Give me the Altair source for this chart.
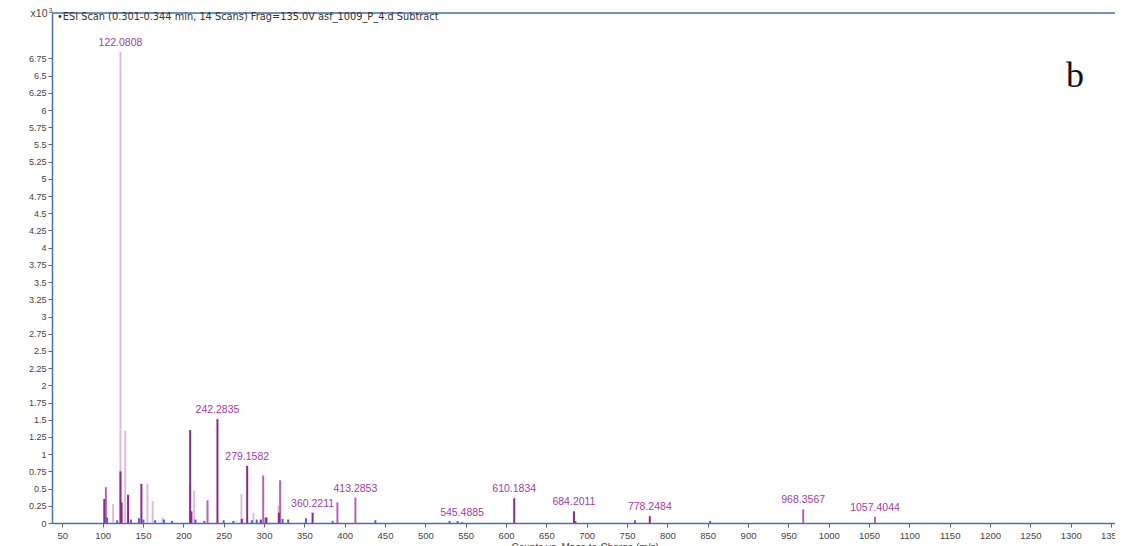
import altair as alt
import pandas as pd

# ---- data (m/z, intensity in x10^3 counts) ----
light_mz = [113.0, 122.08, 128.0, 155.5, 162.0, 174.0, 208.0, 213.5, 272.0, 287.0, 318.0]
light_h = [0.28, 6.85, 1.34, 0.57, 0.32, 0.08, 0.57, 0.47, 0.42, 0.15, 0.26]

mid_mz = [104.0, 230.0, 299.0, 320.0, 391.0, 413.29, 968.36, 1057.40, 545.49]
mid_h = [0.52, 0.33, 0.69, 0.62, 0.30, 0.37, 0.20, 0.09, 0.015]

blue_mz = [105.5, 118.0, 135.0, 145.0, 150.5, 165.0, 176.0, 186.0, 215.0, 226.0, 250.0,
           262.0, 285.0, 291.0, 302.0, 323.0, 330.0, 352.0, 385.0, 438.0, 530.0, 540.0,
           686.0, 760.0, 853.0]
blue_h = [0.08, 0.04, 0.05, 0.07, 0.05, 0.04, 0.05, 0.03, 0.05, 0.03, 0.04,
          0.03, 0.04, 0.05, 0.08, 0.06, 0.05, 0.07, 0.03, 0.04, 0.03, 0.03,
          0.03, 0.04, 0.03]

dark_mz = [102.0, 122.08, 123.5, 131.5, 148.0, 208.5, 210.0, 242.28, 272.5, 279.15,
           296.0, 303.0, 318.5, 360.22, 610.18, 684.20, 778.25]
dark_h = [0.35, 0.75, 0.30, 0.41, 0.57, 1.35, 0.17, 1.51, 0.06, 0.83,
          0.05, 0.08, 0.15, 0.15, 0.36, 0.17, 0.10]

label_mz = [122.08, 242.28, 279.15, 360.22, 413.29, 545.49, 610.18, 684.20, 778.25, 968.36, 1057.40]
label_h = [6.85, 1.51, 0.83, 0.15, 0.37, 0.015, 0.36, 0.17, 0.10, 0.20, 0.09]
label_text = ["122.0808", "242.2835", "279.1582", "360.2211", "413.2853", "545.4885",
              "610.1834", "684.2011", "778.2484", "968.3567", "1057.4044"]

x_ticks = list(range(50, 1351, 50))
y_ticks = [i * 0.25 for i in range(0, 28)]

rows = []
for kind, mzs, hs in [("light", light_mz, light_h), ("mid", mid_mz, mid_h),
                      ("blue", blue_mz, blue_h), ("dark", dark_mz, dark_h)]:
    for m, h in zip(mzs, hs):
        rows.append({"mz": m, "h": h, "kind": kind, "zero": 0.0})
peaks = pd.DataFrame(rows)
labels = pd.DataFrame({"mz": label_mz, "h": label_h, "t": label_text})

W, H = 1063, 510
xs = alt.Scale(domain=[37.2, 1354.9], nice=False, zero=False)
ys = alt.Scale(domain=[0, 7.41], nice=False)

FONT = "Liberation Sans"
BLUE = "#4a6fae"

x_axis = alt.Axis(
    values=x_ticks, format="d", title="Counts vs. Mass-to-Charge (m/z)",
    domainColor=BLUE, domainWidth=1.5, tickColor="#666", tickSize=4,
    labelColor="#444", labelFont=FONT, labelFontSize=9.5, labelPadding=3,
    grid=False, titleFont=FONT, titleFontSize=10, titleFontWeight="normal",
    titleColor="#444", titleBaseline="top", titleY=19, titleX=459, titleAnchor="start",
    labelFlush=False, labelOverlap=False)
y_axis = alt.Axis(
    values=y_ticks, labelExpr="format(datum.value, '~g')", title=None,
    domainColor=BLUE, domainWidth=1.5, tickColor="#666", tickSize=4,
    labelColor="#444", labelFont=FONT, labelFontSize=9, labelPadding=2,
    grid=False, labelFlush=False, labelOverlap=False)

sticks = alt.Chart(peaks).mark_rule(strokeWidth=2, clip=True).encode(
    x=alt.X("mz:Q", scale=xs, axis=x_axis),
    y=alt.Y("zero:Q", scale=ys, axis=y_axis),
    y2="h:Q",
    color=alt.Color("kind:N", legend=None, scale=alt.Scale(
        domain=["light", "mid", "blue", "dark"],
        range=["#dcbcdc", "#b463b4", "#5563c4", "#8a2a8a"])),
)

peak_labels = alt.Chart(labels).mark_text(
    baseline="bottom", align="center", dy=-4, font=FONT, fontSize=10.5, color="#a040a0"
).encode(x=alt.X("mz:Q", scale=xs, axis=x_axis), y=alt.Y("h:Q", scale=ys, axis=y_axis), text="t:N")

top_line = alt.Chart(pd.DataFrame({"a": [0]})).mark_rule(color=BLUE, strokeWidth=1.5).encode(
    x=alt.value(0), x2=alt.value(W), y=alt.value(0))

ann = pd.DataFrame({
    "t": ["\u2022ESI Scan (0.301-0.344 min, 14 Scans) Frag=135.0V asf_1009_P_4.d  Subtract"],
})
title_txt = alt.Chart(ann).mark_text(
    align="left", baseline="alphabetic", font="DejaVu Sans", fontSize=9.8, color="#333"
).encode(x=alt.value(5), y=alt.value(7), text="t:N")

x10 = alt.Chart(pd.DataFrame({"t": ["x10"]})).mark_text(
    align="right", baseline="alphabetic", font=FONT, fontSize=10.5, color="#444"
).encode(x=alt.value(-4.5), y=alt.value(4), text="t:N")
sup = alt.Chart(pd.DataFrame({"t": ["3"]})).mark_text(
    align="left", baseline="alphabetic", font=FONT, fontSize=7, color="#444"
).encode(x=alt.value(-3.5), y=alt.value(-0.5), text="t:N")

panel = alt.Chart(pd.DataFrame({"t": ["b"]})).mark_text(
    align="center", baseline="alphabetic", font="Liberation Serif", fontSize=36, color="#111"
).encode(x=alt.value(1023), y=alt.value(74), text="t:N")

chart = alt.layer(sticks, top_line, peak_labels, title_txt, x10, sup, panel).properties(
    width=W, height=H,
    autosize=alt.AutoSizeParams(type="none"),
    padding={"left": 44, "top": 5, "right": 0, "bottom": 23},
).configure_view(stroke=None).configure(background="white")

chart.save("out.html", embed_options={"renderer": "svg", "actions": False})
